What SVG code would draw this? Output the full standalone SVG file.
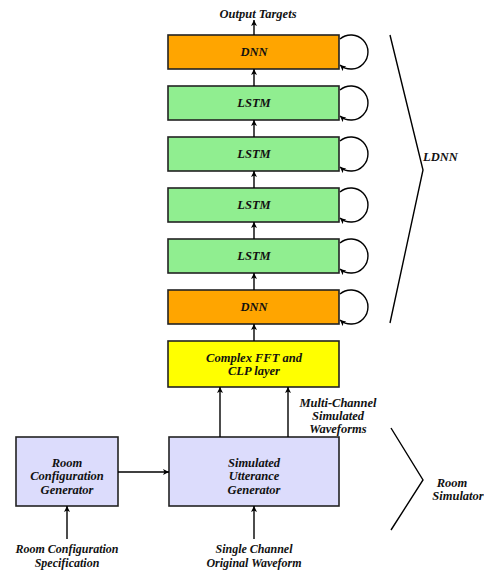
<svg xmlns="http://www.w3.org/2000/svg" width="484" height="571" viewBox="0 0 484 571">
<defs>
<marker id="ah" markerUnits="userSpaceOnUse" markerWidth="7" markerHeight="6" refX="6" refY="3" orient="auto">
<path d="M0,0 L6,3 L0,6 L1.5,3 z" fill="#000"/>
</marker>
</defs>
<style>
text{font-family:"Liberation Serif","Times New Roman",serif;font-weight:bold;font-style:italic;font-size:12.5px;fill:#111;text-anchor:middle}
.s{font-size:12px}
.box{stroke:#222;stroke-width:1.6}
.dnn{fill:#FFA500}
.lstm{fill:#90EE90}
.fft{fill:#FFFF00}
.sim{fill:#DCDCFC}
.c{fill:none;stroke:#000;stroke-width:1.4}
.a{fill:none;stroke:#000;stroke-width:1.4;marker-end:url(#ah)}
</style>
<rect width="484" height="571" fill="#fff"/>
<g id="dnn_top"><rect class="box dnn" x="168" y="35" width="171" height="34"/><text x="254" y="56">DNN</text></g>
<g id="lstm1"><rect class="box lstm" x="168" y="86" width="171" height="34"/><text x="254" y="107">LSTM</text></g>
<g id="lstm2"><rect class="box lstm" x="168" y="137" width="171" height="34"/><text x="254" y="158">LSTM</text></g>
<g id="lstm3"><rect class="box lstm" x="168" y="188" width="171" height="34"/><text x="254" y="209">LSTM</text></g>
<g id="lstm4"><rect class="box lstm" x="168" y="239" width="171" height="34"/><text x="254" y="260">LSTM</text></g>
<g id="dnn_bottom"><rect class="box dnn" x="168" y="290" width="171" height="34"/><text x="254" y="311">DNN</text></g>
<g id="fft"><rect class="box fft" x="168" y="341" width="171" height="46"/><text x="254" y="362">Complex FFT and</text><text x="254" y="375">CLP layer</text></g>
<g id="sug"><rect class="box sim" x="169" y="437" width="170" height="69"/><text x="254" y="467">Simulated</text><text x="254" y="480">Utterance</text><text x="254" y="494">Generator</text></g>
<g id="rcg"><rect class="box sim" x="16" y="437" width="102" height="69"/><text x="67" y="467">Room</text><text x="67" y="480">Configuration</text><text x="67" y="494">Generator</text></g>
<g id="labels">
<text x="258" y="18">Output Targets</text>
<text x="338" y="407">Multi-Channel</text><text x="338" y="420">Simulated</text><text x="338" y="433">Waveforms</text>
<text class="s" x="67" y="553">Room Configuration</text><text class="s" x="67" y="567">Specification</text>
<text class="s" x="254" y="553">Single Channel</text><text class="s" x="254" y="567">Original Waveform</text>
<text x="423" y="161" style="text-anchor:start">LDNN</text>
<text x="452" y="487">Room</text><text x="458" y="500">Simulator</text>
</g>
<g id="connectors">
<path class="a" d="M254 35 V20"/>
<path class="a" d="M254 86 V69"/>
<path class="a" d="M254 137 V120"/>
<path class="a" d="M254 188 V171"/>
<path class="a" d="M254 239 V222"/>
<path class="a" d="M254 290 V273"/>
<path class="a" d="M254 341 V324"/>
<path class="a" d="M220 437 V387"/>
<path class="a" d="M288 437 V387"/>
<path class="a" d="M118 472 H169"/>
<path class="a" d="M67 539 V506"/>
<path class="a" d="M254 539 V506"/>
<path class="a" d="M340 39 A17 17 0 1 1 340 65"/>
<path class="a" d="M340 90 A17 17 0 1 1 340 116"/>
<path class="a" d="M340 141 A17 17 0 1 1 340 167"/>
<path class="a" d="M340 192 A17 17 0 1 1 340 218"/>
<path class="a" d="M340 243 A17 17 0 1 1 340 269"/>
<path class="a" d="M340 294 A17 17 0 1 1 340 320"/>
<path class="c" d="M390 35 L423 170 L390 323"/>
<path class="c" d="M391 428 L423 480 L391 530"/>
</g>
</svg>
